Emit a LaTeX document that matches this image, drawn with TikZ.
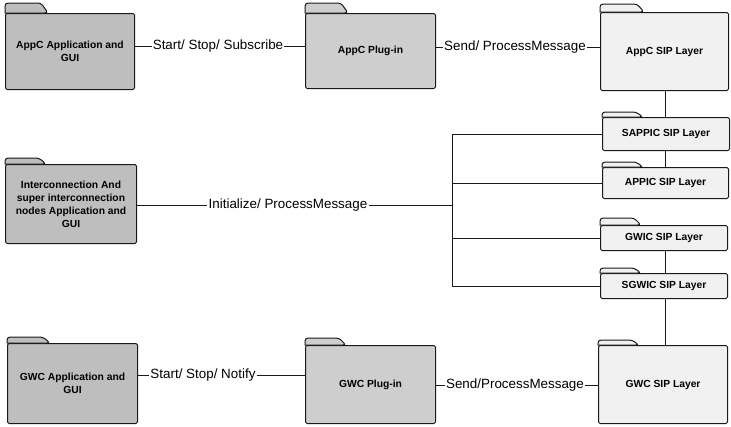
\documentclass[tikz,border=0pt]{standalone}
\usepackage{fontspec}
\setmainfont{Liberation Sans}
\definecolor{appfill}{RGB}{190,190,190}
\definecolor{plugfill}{RGB}{206,206,206}
\definecolor{sipfill}{RGB}{241,241,241}
\definecolor{ink}{RGB}{25,25,25}
\tikzset{
  box/.style={draw=ink, line width=1pt, align=center, inner sep=0pt, anchor=north west,
    rounded corners=1.5pt, font=\bfseries\fontsize{10.3}{13}\selectfont},
  tabshape/.style={draw=ink, line width=1pt},
  lbl/.style={inner sep=1pt, font=\fontsize{13.4}{15}\selectfont},
  conn/.style={draw=ink, line width=0.8pt}
}
\newcommand{\foldertab}[4]{%
  \filldraw[tabshape, fill=#4] (#1.north west) [rounded corners=3pt] -- ++(0,-#3) -- ++(#2-7,0) -- ++(7,#3) [sharp corners] -- cycle;}
\begin{document}
\begin{tikzpicture}[x=1pt,y=-1pt]
\useasboundingbox (0,0) rectangle (731,426);
% top row
\node[box, minimum width=129pt, minimum height=76pt, fill=appfill] (appA) at (5,13) {AppC Application and\\GUI};
\foldertab{appA}{43}{10}{appfill}
\node[box, minimum width=130pt, minimum height=75pt, fill=plugfill] (appP) at (305,13) {AppC Plug-in};
\foldertab{appP}{43}{10}{plugfill}
\node[box, minimum width=128pt, minimum height=78pt, fill=sipfill] (appS) at (600,12) {AppC SIP Layer};
\foldertab{appS}{44}{8}{sipfill}
% right column
\node[box, minimum width=127pt, minimum height=33pt, fill=sipfill] (sappic) at (602,117) {SAPPIC SIP Layer};
\foldertab{sappic}{41}{5}{sipfill}
\node[box, minimum width=126pt, minimum height=31pt, fill=sipfill] (appic) at (602,167) {APPIC SIP Layer};
\foldertab{appic}{41}{5}{sipfill}
\node[box, minimum width=127pt, minimum height=25pt, fill=sipfill] (gwic) at (600,225) {GWIC SIP Layer};
\foldertab{gwic}{41}{7}{sipfill}
\node[box, minimum width=127pt, minimum height=25pt, fill=sipfill] (sgwic) at (600,273) {SGWIC SIP Layer};
\foldertab{sgwic}{41}{5}{sipfill}
% middle left
\node[box, minimum width=131pt, minimum height=79pt, fill=appfill] (ic) at (5,164) {Interconnection And\\super interconnection\\nodes Application and\\GUI};
\foldertab{ic}{41}{6}{appfill}
% bottom row
\node[box, minimum width=130pt, minimum height=80pt, fill=appfill] (gwcA) at (7,343) {GWC Application and\\GUI};
\foldertab{gwcA}{43}{6}{appfill}
\node[box, minimum width=130pt, minimum height=78pt, fill=plugfill] (gwcP) at (305,345) {GWC Plug-in};
\foldertab{gwcP}{41}{7}{plugfill}
\node[box, minimum width=129pt, minimum height=78pt, fill=sipfill] (gwcS) at (598,345) {GWC SIP Layer};
\foldertab{gwcS}{41}{5}{sipfill}
% labels
\node[lbl] (l1) at (218,46) {Start/ Stop/ Subscribe};
\node[lbl] (l2) at (515,47) {Send/ ProcessMessage};
\node[lbl] (l3) at (288,205) {Initialize/ ProcessMessage};
\node[lbl] (l4) at (203,375) {Start/ Stop/ Notify};
\node[lbl] (l5) at (515,385) {Send/ProcessMessage};
\coordinate (bx) at (452,0);
\coordinate (vx) at (665,0);
% top connectors
\draw[conn] (l1.west -| appA.east) -- (l1.west);
\draw[conn] (l1.east) -- (l1.east -| appP.west);
\draw[conn] (l2.west -| appP.east) -- (l2.west);
\draw[conn] (l2.east) -- (l2.east -| appS.west);
% vertical chain
\draw[conn] (appS.south -| vx) -- (sappic.north -| vx);
\draw[conn] (sappic.south -| vx) -- (appic.north -| vx);
\draw[conn] (gwic.south -| vx) -- (sgwic.north -| vx);
\draw[conn] (sgwic.south -| vx) -- (gwcS.north -| vx);
% bus
\draw[conn] (sappic.west) -- (sappic.west -| bx) -- (sgwic.west -| bx) -- (sgwic.west);
\draw[conn] (appic.west) -- (appic.west -| bx);
\draw[conn] (gwic.west) -- (gwic.west -| bx);
\draw[conn] (l3.west -| ic.east) -- (l3.west);
\draw[conn] (l3.east) -- (l3.east -| bx);
% bottom connectors
\draw[conn] (l4.west -| gwcA.east) -- (l4.west);
\draw[conn] (l4.east) -- (l4.east -| gwcP.west);
\draw[conn] (l5.west -| gwcP.east) -- (l5.west);
\draw[conn] (l5.east) -- (l5.east -| gwcS.west);
\end{tikzpicture}
\end{document}
